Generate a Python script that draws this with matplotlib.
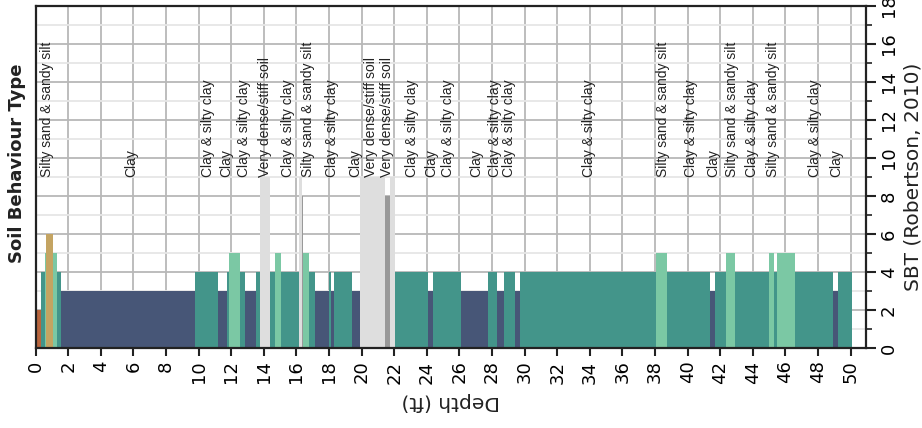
import matplotlib
matplotlib.use("Agg")
import matplotlib.pyplot as plt
from matplotlib.ticker import MultipleLocator

# ---- data ----
layer_top = [0.00, 0.33, 0.57, 0.63, 1.07, 1.29, 1.55, 9.78, 11.16, 11.73, 11.88, 12.53,
             12.84, 13.50, 13.75, 14.36, 14.70, 15.03, 16.15, 16.35, 16.42, 16.77, 17.15,
             18.00, 18.12, 18.30, 19.40, 19.88, 21.44, 21.75, 22.05, 24.07, 24.38, 26.10,
             27.75, 28.30, 28.74, 29.42, 29.72, 38.06, 38.74, 41.38, 41.69, 42.36, 42.91,
             44.99, 45.30, 45.50, 46.60, 48.90, 49.20]
layer_bottom = layer_top[1:] + [50.10]
layer_sbt = [2, 4, 5, 6, 5, 4, 3, 4, 3, 4, 5, 4,
             3, 4, 9, 4, 5, 4, 9, 8, 5, 4, 3,
             4, 3, 4, 3, 9, 8, 9, 4, 3, 4, 3,
             4, 3, 4, 3, 4, 5, 4, 3, 4, 5, 4,
             5, 4, 5, 4, 3, 4]

label_depth = [0.67, 5.85, 10.59, 11.67, 12.8, 14.07, 15.5, 16.72, 18.2, 19.59, 20.55,
               21.57, 23.07, 24.29, 25.28, 27.01, 28.18, 29.06, 33.96, 38.5, 40.18,
               41.57, 42.7, 43.96, 45.21, 47.81, 49.14]
label_text = ["Silty sand & sandy silt", "Clay", "Clay & silty clay", "Clay",
              "Clay & silty clay", "Very dense/stiff soil", "Clay & silty clay",
              "Silty sand & sandy silt", "Clay & silty clay", "Clay",
              "Very dense/stiff soil", "Very dense/stiff soil", "Clay & silty clay",
              "Clay", "Clay & silty clay", "Clay", "Clay & silty clay",
              "Clay & silty clay", "Clay & silty clay", "Silty sand & sandy silt",
              "Clay & silty clay", "Clay", "Silty sand & sandy silt",
              "Clay & silty clay", "Silty sand & sandy silt", "Clay & silty clay", "Clay"]
label_level = 9

sbt_colors = {2: "#b8653d", 3: "#475677", 4: "#43958a", 5: "#7bc8a4",
              6: "#c4a462", 8: "#999999", 9: "#dedede"}

# ---- figure ----
W, H = 922, 428
fig = plt.figure(figsize=(W / 100, H / 100), dpi=100)
ax = fig.add_axes([35.7 / W, 80 / H, 830.3 / W, 342 / H])

widths = [b - t for t, b in zip(layer_top, layer_bottom)]
colors = [sbt_colors[s] for s in layer_sbt]
ax.bar(layer_top, layer_sbt, width=widths, align="edge", color=colors,
       linewidth=0, zorder=2)

for d, t in zip(label_depth, label_text):
    ax.text(d, label_level, t, rotation=90, ha="center", va="bottom",
            fontsize=10, family=["Liberation Sans", "DejaVu Sans"], color="#222222",
            zorder=3)

ax.set_xlim(0, 50.94)
ax.set_ylim(0, 18)
ax.xaxis.set_major_locator(MultipleLocator(2))
ax.yaxis.set_major_locator(MultipleLocator(2))
ax.yaxis.set_minor_locator(MultipleLocator(1))
ax.yaxis.tick_right()

ax.set_axisbelow(True)
ax.grid(axis="x", which="major", color="#b8b8b8", linewidth=1.3, zorder=0)
ax.grid(axis="y", which="major", color="#b8b8b8", linewidth=1.3, zorder=0)
ax.grid(axis="y", which="minor", color="#e6e6e6", linewidth=1.3, zorder=0)

for s in ax.spines.values():
    s.set_linewidth(1.6)
    s.set_color("#222222")

ax.tick_params(axis="x", which="major", length=6, width=1.5, color="#222222",
               labelsize=13, labelrotation=90, pad=3)
ax.tick_params(axis="y", which="major", length=7, width=1.5, color="#222222",
               labelsize=13, labelrotation=90, pad=3, right=True, left=False)
ax.tick_params(axis="y", which="minor", length=4, width=1.2, color="#222222",
               right=True, left=False)
for lab in ax.get_yticklabels():
    lab.set_va("center")

fig.text(451 / W, 1 - 402 / H, "Depth (ft)", rotation=180, ha="center", va="center",
         fontsize=14.5, color="#222222")
fig.text(913 / W, 1 - 177 / H, "SBT (Robertson, 2010)", rotation=90, ha="center",
         va="center", fontsize=14.5, color="#222222")
fig.text(17 / W, 1 - 163 / H, "Soil Behaviour Type", rotation=90, ha="center",
         va="center", fontsize=13, fontweight="bold", color="#222222")

fig.savefig("out.png", dpi=100)
